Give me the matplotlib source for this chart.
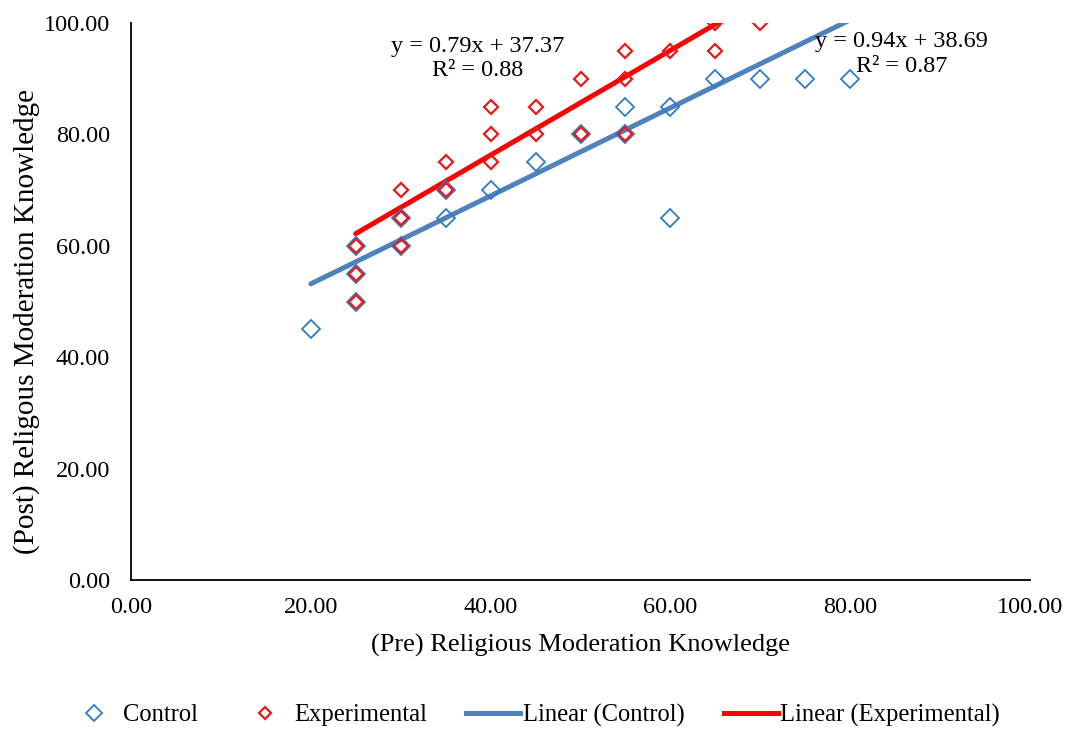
import numpy as np
import matplotlib
matplotlib.use("Agg")
import matplotlib.pyplot as plt
from matplotlib.lines import Line2D

plt.rcParams['font.family'] = ['Liberation Serif', 'DejaVu Serif']

# pre / post scores
control_x = [20, 25, 25, 25, 30, 30, 35, 35, 40, 45, 50, 55, 55, 60, 60, 65, 70, 75, 80]
control_y = [45, 50, 55, 60, 60, 65, 65, 70, 70, 75, 80, 85, 80, 85, 65, 90, 90, 90, 90]
exp_x = [25, 25, 25, 30, 30, 30, 35, 35, 40, 40, 40, 45, 45, 50, 50, 55, 55, 55, 60, 65, 65, 70]
exp_y = [50, 55, 60, 60, 65, 70, 70, 75, 75, 80, 85, 80, 85, 80, 90, 80, 90, 95, 95, 95, 100, 100]

# trendline coefficients (slope, intercept) as printed on the chart
control_fit = [0.79, 37.37]
exp_fit = [0.94, 38.69]
control_r2 = 0.88
exp_r2 = 0.87

blue_mk = "#2E7CC4"
blue_ln = "#4F81BD"
red_mk = "#E8191A"
red_ln = "#FF0000"

fig = plt.figure(figsize=(10.67, 7.29), dpi=100)
ax = fig.add_axes([0.1228, 0.2044, 0.8425, 0.764])

ax.plot(control_x, control_y, linestyle="none", marker="D", ms=9,
        mfc="none", mec=blue_mk, mew=1.3, zorder=3)
ax.plot(exp_x, exp_y, linestyle="none", marker="D", ms=7,
        mfc="none", mec=red_mk, mew=1.6, zorder=4)

xc = np.array([min(control_x), max(control_x)])
ax.plot(xc, control_fit[0] * xc + control_fit[1], color=blue_ln, lw=3.6,
        solid_capstyle="round", zorder=2)
xe = np.array([min(exp_x), max(exp_x)])
ax.plot(xe, exp_fit[0] * xe + exp_fit[1], color=red_ln, lw=3.6,
        solid_capstyle="round", zorder=2)

ax.text(38.6, 93.6, "y = %.2fx + %.2f\nR² = %.2f" % (control_fit[0], control_fit[1], control_r2),
        ha="center", va="center", fontsize=17.5, linespacing=1.22)
ax.text(85.7, 94.4, "y = %.2fx + %.2f\nR² = %.2f" % (exp_fit[0], exp_fit[1], exp_r2),
        ha="center", va="center", fontsize=17.5, linespacing=1.22)

ax.set_xlim(0, 100)
ax.set_ylim(0, 100)
ax.set_xticks(np.arange(0, 101, 20))
ax.set_yticks(np.arange(0, 101, 20))
ax.xaxis.set_major_formatter(matplotlib.ticker.FormatStrFormatter("%.2f"))
ax.yaxis.set_major_formatter(matplotlib.ticker.FormatStrFormatter("%.2f"))
ax.tick_params(length=0, labelsize=17.5)
ax.tick_params(axis="x", pad=12)
ax.tick_params(axis="y", pad=15)
ax.spines["top"].set_visible(False)
ax.spines["right"].set_visible(False)
ax.spines["left"].set_linewidth(1.3)
ax.spines["bottom"].set_linewidth(1.3)
ax.set_xlabel("(Pre) Religious Moderation Knowledge", fontsize=19, labelpad=12)
ax.set_ylabel("(Post) Religous Moderation Knowledge", fontsize=21)
ax.yaxis.set_label_coords(-0.101, 0.464)

handles = [
    Line2D([], [], linestyle="none", marker="D", ms=8, mfc="none", mec=blue_mk, mew=1.3),
    Line2D([], [], linestyle="none", marker="D", ms=6.5, mfc="none", mec=red_mk, mew=1.6),
    Line2D([], [], color=blue_ln, lw=3.6),
    Line2D([], [], color=red_ln, lw=3.6),
]
labels = ["Control", "Experimental", "Linear (Control)", "Linear (Experimental)"]
fig.legend(handles, labels, loc="center", bbox_to_anchor=(0.5, 0.019), ncol=4,
           frameon=False, fontsize=17.7, handlelength=2.2, handletextpad=0.1,
           columnspacing=1.6)

fig.savefig("out.png", dpi=100)
